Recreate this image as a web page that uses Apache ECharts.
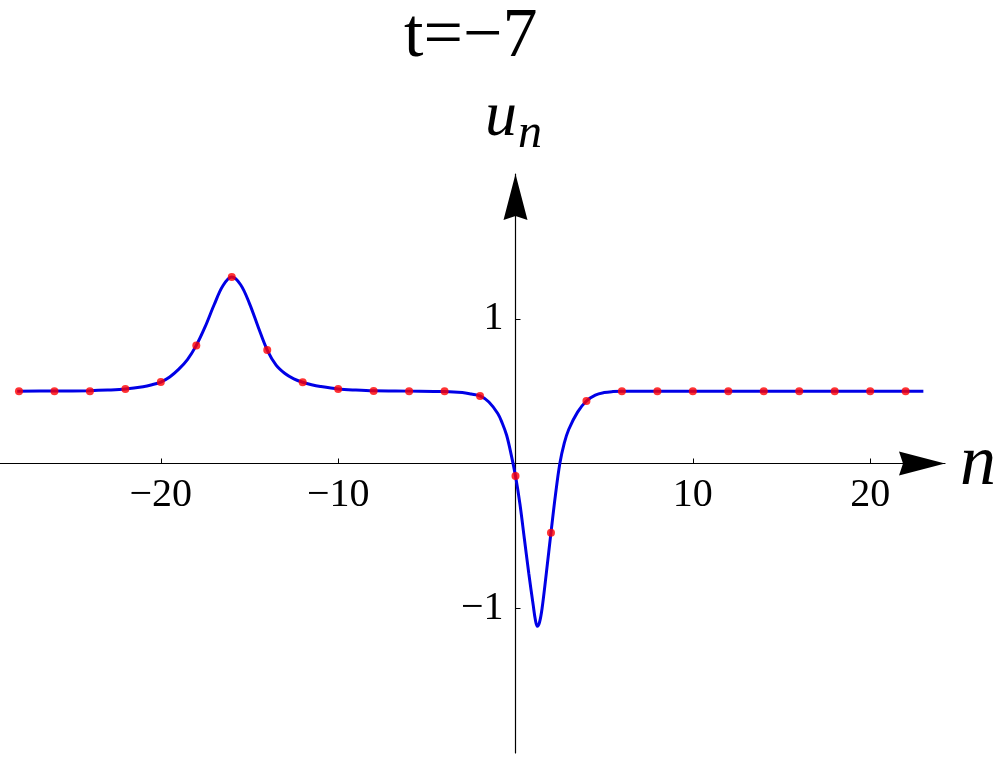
<!DOCTYPE html>
<html>
<head>
<meta charset="utf-8">
<title>t=−7</title>
<script src="https://cdn.jsdelivr.net/npm/echarts@6/dist/echarts.min.js"></script>
<style>
  html, body { margin: 0; padding: 0; background: #fff; }
  #chart { width: 1000px; height: 757px; }
</style>
</head>
<body>
<div id="chart"></div>
<script>
// continuous profile u(n)
const curveN = [-28.1, -26, -24, -23, -22, -21, -20.5, -20, -19.5, -19, -18.5, -18, -17.5, -17, -16.5, -16,
  -15.5, -15, -14.5, -14, -13.5, -13, -12.5, -12, -11.5, -11, -10, -9, -8, -6, -4, -3, -2.5, -2, -1.5,
  -1, -0.75, -0.5, -0.25, 0, 0.25, 0.5, 0.75, 1.0, 1.12, 1.23, 1.35, 1.5, 1.75, 2.0, 2.25, 2.5, 2.75, 3.0,
  3.5, 4.0, 4.5, 5.0, 5.5, 6, 23];
const curveU = [0.500, 0.501, 0.503, 0.507, 0.514, 0.530, 0.544, 0.563, 0.598, 0.650, 0.718, 0.816, 0.945, 1.095, 1.228, 1.288,
  1.235, 1.105, 0.940, 0.784, 0.680, 0.622, 0.585, 0.561, 0.544, 0.532, 0.515, 0.507, 0.502, 0.500, 0.497, 0.490, 0.480, 0.467, 0.425,
  0.345, 0.280, 0.195, 0.065, -0.087, -0.280, -0.520, -0.760, -0.980, -1.080, -1.125, -1.100, -1.000, -0.745, -0.478, -0.220, 0.000, 0.140, 0.235,
  0.355, 0.432, 0.473, 0.490, 0.497, 0.500, 0.500];

// lattice sites (red dots)
const dotN = [-28, -26, -24, -22, -20, -18, -16, -14, -12, -10, -8, -6, -4, -2, 0, 2, 4, 6, 8, 10, 12, 14, 16, 18, 20, 22];
const dotU = [0.500, 0.500, 0.500, 0.515, 0.563, 0.816, 1.288, 0.784, 0.561, 0.515, 0.501, 0.500, 0.499, 0.467, -0.087, -0.478, 0.432,
  0.500, 0.500, 0.500, 0.500, 0.500, 0.500, 0.500, 0.500, 0.500];

const xTicks = [-20, -10, 10, 20];
const yTicks = [-1, 1];

const serif = '"Liberation Serif", "DejaVu Serif", serif';
const minus = v => String(v).replace('-', '\u2212');
const arrow = 'path://M12,0 L24,46 L12,42 L0,46 Z';

// plot box: x from 0 to 945 px, y from 174 to 753 px; axes cross at (515.5, 464)
const xMin = -29.07, xMax = 24.22, yMin = -2, yMax = 2;
const gridLeft = 0, gridRight = 55, gridTop = 174, gridBottom = 4;
const plotW = 1000 - gridLeft - gridRight, plotH = 757 - gridTop - gridBottom;
const xZeroOffset = -plotW * (0 - xMin) / (xMax - xMin);   // move y axis to n = 0
const yZeroOffset = -plotH * (0 - yMin) / (yMax - yMin);   // move x axis to u = 0

const chart = echarts.init(document.getElementById('chart'));
chart.setOption({
  animation: false,
  backgroundColor: '#fff',
  grid: { left: gridLeft, right: gridRight, top: gridTop, bottom: gridBottom, outerBoundsMode: 'none', containLabel: false },
  xAxis: {
    type: 'value',
    min: xMin,
    max: xMax,
    position: 'bottom',
    offset: yZeroOffset,
    splitLine: { show: false },
    axisLine: {
      onZero: false,
      lineStyle: { color: '#000', width: 1.2 },
      symbol: ['none', arrow],
      symbolSize: [24, 46],
      symbolOffset: [0, -23]
    },
    axisTick: { show: true, inside: true, length: 5, customValues: xTicks, lineStyle: { color: '#000' } },
    axisLabel: {
      customValues: xTicks, formatter: minus, margin: 12,
      color: '#000', fontFamily: serif, fontSize: 40
    }
  },
  yAxis: {
    type: 'value',
    min: yMin,
    max: yMax,
    position: 'left',
    offset: xZeroOffset,
    splitLine: { show: false },
    axisLine: {
      onZero: false,
      lineStyle: { color: '#000', width: 1.2 },
      symbol: ['none', arrow],
      symbolSize: [24, 46],
      symbolOffset: [0, -23]
    },
    axisTick: { show: true, inside: true, length: 5, customValues: yTicks, lineStyle: { color: '#000' } },
    axisLabel: {
      customValues: yTicks, formatter: minus, margin: 12,
      color: '#000', fontFamily: serif, fontSize: 40
    }
  },
  graphic: [
    { type: 'text', left: 404, top: 3, style: { text: 't=\u22127', fontFamily: serif, fontSize: 70, fill: '#000' } },
    { type: 'text', x: 485, y: 118, style: { text: 'u', fontFamily: serif, fontStyle: 'italic', fontSize: 64, fill: '#000', verticalAlign: 'middle' } },
    { type: 'text', x: 518, y: 134, style: { text: 'n', fontFamily: serif, fontStyle: 'italic', fontSize: 48, fill: '#000', verticalAlign: 'middle' } },
    { type: 'text', x: 960, y: 465, style: { text: 'n', fontFamily: serif, fontStyle: 'italic', fontSize: 72, fill: '#000', verticalAlign: 'middle' } }
  ],
  series: [
    {
      type: 'line',
      data: curveN.map((n, i) => [n, curveU[i]]),
      smooth: 0.35,
      showSymbol: false,
      lineStyle: { color: '#0000e6', width: 3 },
      z: 2
    },
    {
      type: 'scatter',
      data: dotN.map((n, i) => [n, dotU[i]]),
      symbolSize: 8,
      itemStyle: { color: '#ff0000' },
      z: 3
    }
  ]
});
</script>
</body>
</html>
